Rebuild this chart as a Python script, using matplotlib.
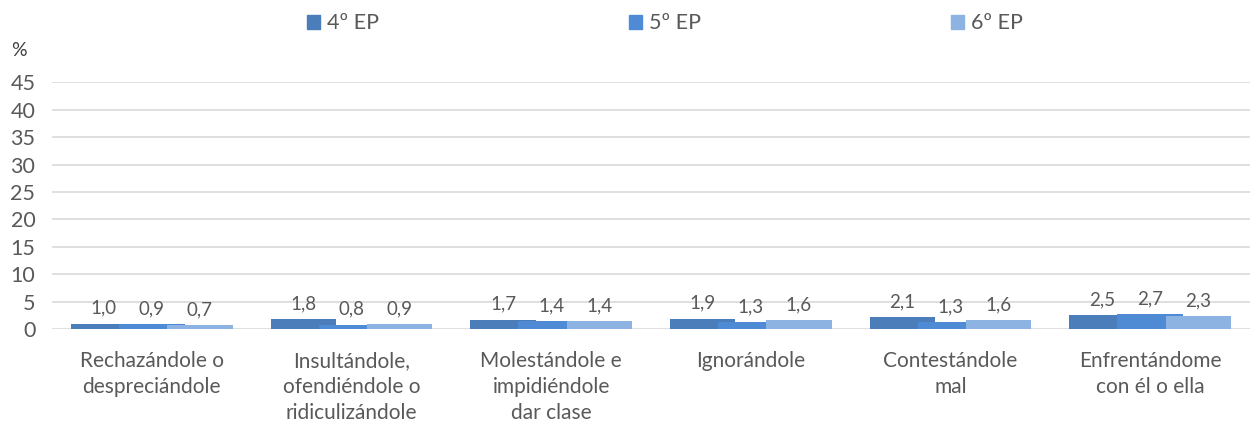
import numpy as np
import matplotlib
matplotlib.use("Agg")
import matplotlib.pyplot as plt
from matplotlib.patches import Patch

plt.rcParams['font.family'] = ['Lato', 'DejaVu Sans']

categories = ["Rechazándole o\ndespreciándole",
              "Insultándole,\nofendiéndole o\nridiculizándole",
              "Molestándole e\nimpidiéndole\ndar clase",
              "Ignorándole",
              "Contestándole\nmal",
              "Enfrentándome\ncon él o ella"]
series_names = ["4º EP", "5º EP", "6º EP"]
ep4 = [1.0, 1.8, 1.7, 1.9, 2.1, 2.5]
ep5 = [0.9, 0.8, 1.4, 1.3, 1.3, 2.7]
ep6 = [0.7, 0.9, 1.4, 1.6, 1.6, 2.3]
yticks = [0, 5, 10, 15, 20, 25, 30, 35, 40, 45]

colors = ["#4a7dba", "#4f8bd5", "#8db3e2"]
grey = "#595959"


def main():
    fig = plt.figure(figsize=(12.5, 4.26), dpi=100)
    ax = fig.add_axes([52 / 1250, 97 / 426, 1198 / 1250, 246.6 / 426])

    x = np.arange(len(categories))
    step = 0.241
    width = 0.328
    for i, (vals, name) in enumerate(zip([ep4, ep5, ep6], series_names)):
        pos = x + (i - 1) * step
        ax.bar(pos, vals, width=width, color=colors[i], label=name, zorder=2 + i)
        for px, v in zip(pos, vals):
            ax.annotate(("%.1f" % v).replace(".", ","), (px, v), xytext=(0, 5),
                        textcoords="offset points", ha="center", va="bottom",
                        fontsize=13.5, color=grey, zorder=10)

    ax.set_xlim(-0.5, len(categories) - 0.5)
    ax.set_ylim(0, 45)
    ax.set_yticks(yticks)
    ax.set_yticklabels([str(t) for t in yticks], fontsize=15.5, color=grey)
    ax.set_xticks(x)
    ax.set_xticklabels(categories, fontsize=15, color=grey, linespacing=1.38)
    ax.tick_params(axis="both", length=0)
    ax.tick_params(axis="x", pad=16)
    ax.tick_params(axis="y", pad=12)
    ax.grid(axis="y", color="#d9d9d9", linewidth=1.2, zorder=0)
    for s in ax.spines.values():
        s.set_visible(False)

    fig.text(0.009, 0.882, "%", fontsize=14, color="#404040", ha="left", va="center")

    handles = [Patch(color=c) for c in colors]
    fig.legend(handles, series_names, loc="center", bbox_to_anchor=(0.532, 0.945),
               ncol=3, frameon=False, fontsize=15.5, labelcolor=grey,
               handlelength=0.6, handleheight=0.6, handletextpad=0.35,
               columnspacing=11.6)

    fig.savefig("out.png", dpi=100)


if __name__ == "__main__":
    main()
